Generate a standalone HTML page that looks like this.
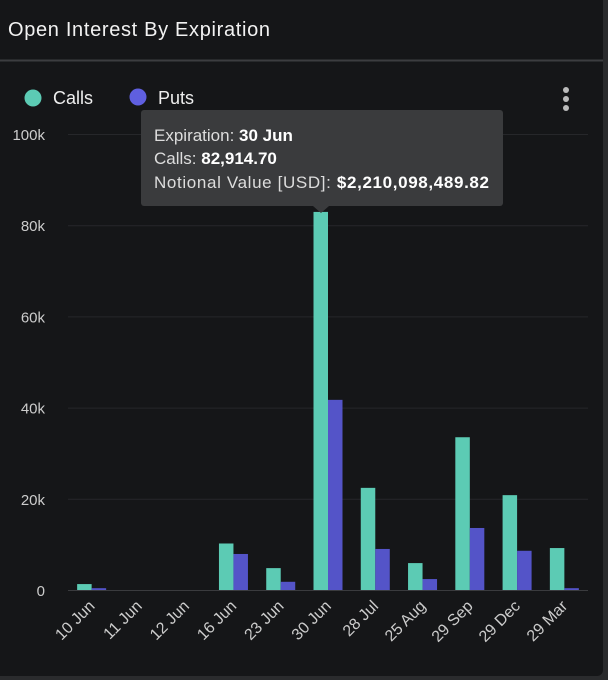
<!DOCTYPE html>
<html><head><meta charset="utf-8"><style>
body{margin:0;width:608px;height:680px;background:#2a2b2d;overflow:hidden;font-family:"Liberation Sans",sans-serif}
#card{position:absolute;left:0;top:0;width:603px;height:676px;background:#151618;border-radius:0 0 6px 0}
</style></head><body>
<div id="card">
<svg width="608" height="680" style="position:absolute;left:0;top:0">
<text x="8" y="36" fill="#f2f2f2" font-size="20" textLength="262">Open Interest By Expiration</text>
<line x1="0" y1="60.5" x2="603" y2="60.5" stroke="#3c3d40" stroke-width="2"/>
<g>
<circle cx="33" cy="98" r="8.5" fill="#5ccbb4"/>
<text x="53" y="104" fill="#eee" font-size="18">Calls</text>
<circle cx="138" cy="97" r="8.5" fill="#5f5fe0"/>
<text x="158" y="104" fill="#eee" font-size="18">Puts</text>
</g>
<g fill="#bbb">
<circle cx="566" cy="90" r="3"/><circle cx="566" cy="99" r="3"/><circle cx="566" cy="108" r="3"/>
</g>
<g id="grid"></g><g id="bars"></g><g id="xl"></g>
<g>
<rect x="141" y="110" width="362" height="96" rx="3" fill="#3a3b3d"/>
<polygon points="313,206 329,206 321,213" fill="#3a3b3d"/>
<text x="154" y="141" fill="#ddd" font-size="17">Expiration: <tspan font-weight="bold" fill="#fff">30 Jun</tspan></text>
<text x="154" y="164" fill="#ddd" font-size="17">Calls: <tspan font-weight="bold" fill="#fff">82,914.70</tspan></text>
<text x="154" y="188" fill="#ddd" font-size="17" textLength="335">Notional Value [USD]: <tspan font-weight="bold" fill="#fff">$2,210,098,489.82</tspan></text>
</g>
</svg>
</div>
<script>
const categories=["10 Jun","11 Jun","12 Jun","16 Jun","23 Jun","30 Jun","28 Jul","25 Aug","29 Sep","29 Dec","29 Mar"];
const calls=[1300,0,0,10200,4800,82914.7,22400,5900,33500,20800,9200];
const puts=[400,0,0,7900,1800,41700,9000,2400,13600,8600,400];
const ticks=[0,20000,40000,60000,80000,100000];
const tickLabels=["0","20k","40k","60k","80k","100k"];
const NS="http://www.w3.org/2000/svg";
const x0=68,x1=588,y0=590,ymax=100000,ytop=134;
const y=v=>y0-(v/ymax)*(y0-ytop);
const slot=(x1-x0)/categories.length;
const xc=i=>x0+slot*(i+0.5);
function mk(t,a,p){const e=document.createElementNS(NS,t);for(const k in a)e.setAttribute(k,a[k]);p.appendChild(e);return e;}
const g=document.getElementById('grid');
ticks.forEach((t,i)=>{
 const l=mk('line',{x1:x0,x2:x1,y1:y(t)+0.5,y2:y(t)+0.5,stroke:i==0?'#3a3b3e':'#26272a'},g);
 
 
 const tx=mk('text',{x:45,y:y(t)+6,fill:'#ccc','font-size':15,'text-anchor':'end'},g);
 tx.textContent=tickLabels[i];
 
 
});
const b=document.getElementById('bars');const bw=14.5;
categories.forEach((c,i)=>{
 if(calls[i]>0){const r=mk('rect',{x:xc(i)-bw,y:y(calls[i]),width:bw,height:y0-y(calls[i]),fill:'#5ccbb4'},b);
 
 }
 if(puts[i]>0){const r=mk('rect',{x:xc(i),y:y(puts[i]),width:bw,height:y0-y(puts[i]),fill:'#5454c8'},b);
 
 }
 const t=mk('text',{x:xc(i)+4,y:607,fill:'#ccc','font-size':16,'text-anchor':'end',transform:`rotate(-45 ${xc(i)+4} 607)`},document.getElementById('xl'));
 t.textContent=c;
 
 
});
</script>
</body></html>
